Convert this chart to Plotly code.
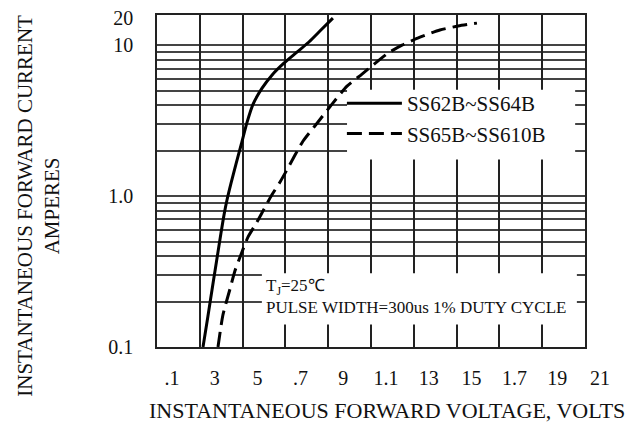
import plotly.graph_objects as go

# ---- data ----
solid_name = "SS62B~SS64B"
solid_v = [0.315, 0.338, 0.357, 0.371, 0.385, 0.399, 0.413, 0.427, 0.446, 0.469, 0.493,
           0.521, 0.549, 0.591, 0.637, 0.693, 0.754, 0.810, 0.866, 0.922]
solid_i = [0.100, 0.160, 0.239, 0.319, 0.426, 0.569, 0.748, 0.942, 1.22, 1.63, 2.18,
           3.09, 4.07, 5.19, 6.33, 7.60, 8.99, 10.5, 12.6, 15.1]

dash_name = "SS65B~SS610B"
dash_v = [0.385, 0.408, 0.441, 0.464, 0.497, 0.525, 0.567, 0.600, 0.637, 0.675, 0.707,
          0.782, 0.848, 0.918, 0.988, 1.058, 1.114, 1.179, 1.245, 1.329, 1.422, 1.507, 1.595]
dash_i = [0.100, 0.163, 0.242, 0.319, 0.426, 0.535, 0.673, 0.820, 1.02, 1.24, 1.49,
          2.31, 3.04, 4.07, 5.35, 6.43, 7.48, 8.85, 10.0, 11.3, 12.6, 13.4, 14.0]

x_tickvals = [0.1, 0.3, 0.5, 0.7, 0.9, 1.1, 1.3, 1.5, 1.7, 1.9, 2.1]
x_ticktext = [".1", "3", "5", ".7", "9", "1.1", "13", "15", "1.7", "19", "21"]

y_top_label_at = 15.2
y_tickvals = [0.1, 1, 10, y_top_label_at]
y_ticktext = ["0.1", "1.0", "10", "20"]
y_minor_vals = [0.2, 0.3, 0.4, 0.5, 0.6, 0.7, 0.8, 0.9, 2, 3, 4, 5, 6, 7, 8, 9]

x_title = "INSTANTANEOUS FORWARD VOLTAGE, VOLTS"
y_title = "INSTANTANEOUS FORWARD CURRENT<br>AMPERES"
note_text = "T<sub>J</sub>=25℃<br>PULSE WIDTH=300us 1% DUTY CYCLE"

FONT = "Liberation Serif, Times New Roman, serif"

fig = go.Figure()
fig.add_trace(go.Scatter(x=solid_v, y=solid_i, mode="lines", name=solid_name,
                         line=dict(color="black", width=3, shape="spline", smoothing=0.6)))
fig.add_trace(go.Scatter(x=dash_v, y=dash_i, mode="lines", name=dash_name,
                         line=dict(color="black", width=3, shape="spline", smoothing=0.6,
                                   dash="15px,7px")))

fig.update_xaxes(range=[0.1, 2.1], tickvals=x_tickvals, ticktext=x_ticktext,
                 showgrid=True, gridcolor="#222222", gridwidth=1.5,
                 showline=True, linecolor="#222", linewidth=1.5, mirror=True,
                 zeroline=False, ticks="", ticklabelstandoff=12, ticklabelshift=15,
                 automargin=False,
                 tickfont=dict(family=FONT, size=20, color="#111"))
fig.update_yaxes(type="log", range=[-1, 1.2], tickvals=y_tickvals, ticktext=y_ticktext,
                 showgrid=False,
                 minor=dict(tickmode="array", tickvals=y_minor_vals + [0.1, 1, 10],
                            showgrid=True, gridcolor="#444444", gridwidth=1.6, ticks=""),
                 showline=True, linecolor="#222", linewidth=1.5, mirror=True,
                 zeroline=False, ticks="", ticklabelstandoff=18,
                 ticklabeloverflow="allow",
                 automargin=False,
                 tickfont=dict(family=FONT, size=20, color="#111"))

# white boxes behind legend and note (cover the grid like the reference)
fig.add_shape(type="rect", xref="paper", yref="paper", x0=0.444, x1=0.977, y0=0.565, y1=0.775,
              fillcolor="white", line=dict(width=0), layer="above")
fig.add_shape(type="rect", xref="paper", yref="paper", x0=0.245, x1=0.981, y0=0.068, y1=0.222,
              fillcolor="white", line=dict(width=0), layer="above")

fig.add_annotation(text=note_text, xref="paper", yref="paper", x=0.25, y=0.151,
                   xanchor="left", yanchor="middle", align="left", showarrow=False,
                   font=dict(family=FONT, size=17, color="#111"))
fig.add_annotation(text=x_title, xref="paper", yref="paper", x=0.537, y=-0.19,
                   xanchor="center", yanchor="middle", showarrow=False,
                   font=dict(family=FONT, size=22, color="#111"))
fig.add_annotation(text=y_title, xref="paper", yref="paper", x=-0.276, y=0.425,
                   xanchor="center", yanchor="middle", showarrow=False, textangle=-90,
                   font=dict(family=FONT, size=21, color="#111"))

# the page body has an 8px margin, so the figure is 8px smaller on each side
fig.update_layout(
    width=632, height=416,
    margin=dict(l=149, r=55, t=7, b=77, autoexpand=False),
    paper_bgcolor="white", plot_bgcolor="white",
    showlegend=True,
    legend=dict(x=0.432, y=0.795, xanchor="left", yanchor="top", itemwidth=55,
                bgcolor="rgba(255,255,255,0)", borderwidth=0, tracegroupgap=0,
                font=dict(family=FONT, size=21, color="#111")),
)

fig.write_html("out.html")
